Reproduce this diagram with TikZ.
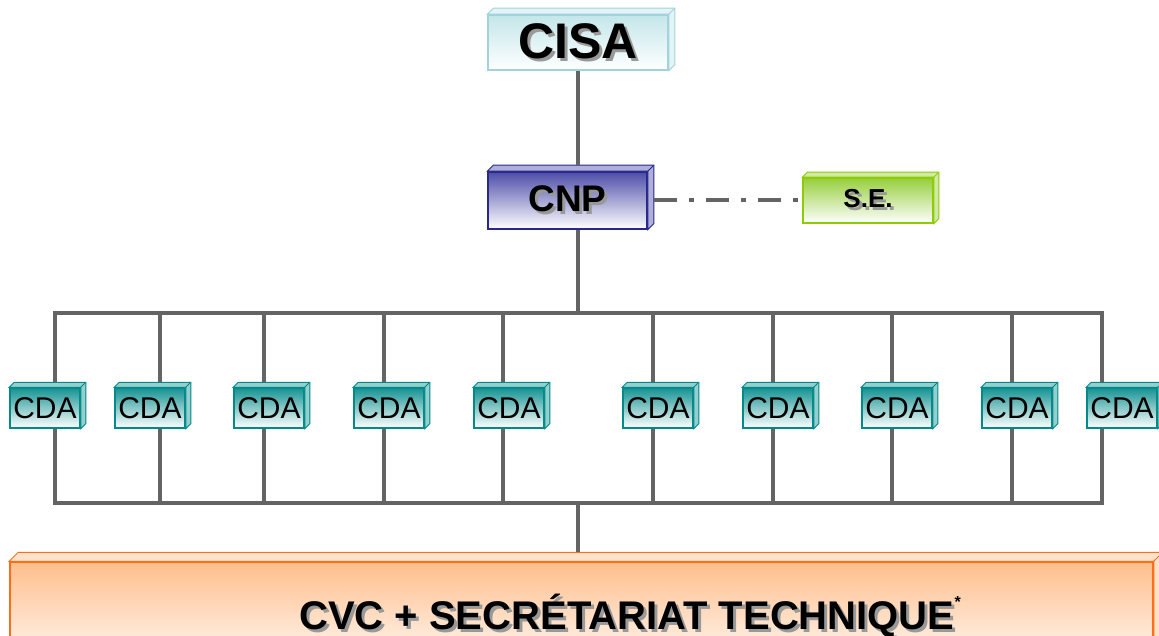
\documentclass[tikz,border=0pt]{standalone}
\usepackage{fontspec}
\setmainfont{Liberation Sans}
\definecolor{cisaline}{RGB}{160,212,218}
\definecolor{cisafill}{RGB}{196,230,234}
\definecolor{cnpline}{RGB}{40,40,140}
\definecolor{cnpfill}{RGB}{78,78,170}
\definecolor{seline}{RGB}{140,204,0}
\definecolor{sefill}{RGB}{150,206,60}
\definecolor{cdaline}{RGB}{0,138,138}
\definecolor{cdafill}{RGB}{22,146,146}
\definecolor{cvcline}{RGB}{255,110,20}
\definecolor{cvcfill}{RGB}{255,190,140}
\definecolor{wiregray}{RGB}{100,100,100}
\tikzset{
	box/.style={draw=#1line, line width=1.5pt, top color=#1fill, bottom color=white, inner sep=0pt},
	wire/.style={draw=wiregray, line width=4pt},
}
% text with a grey drop shadow
\newcommand{\shadowed}[1]{\makebox[0pt][l]{\hspace{3pt}\raisebox{-3pt}{\color{black!40}#1}}#1}
% top and right faces of a box node
\newcommand{\depthfaces}[3]{%
	\filldraw[draw=#3line, line width=1pt, fill=#3fill!45] (#1.north west) -- ([shift={(#2,-#2)}]#1.north west) -- ([shift={(#2,-#2)}]#1.north east) -- ([shift={(#2,-#2)}]#1.south east) -- (#1.south east) -- (#1.north east) -- cycle;
	\draw[draw=#3line, line width=1pt] (#1.north east) -- ([shift={(#2,-#2)}]#1.north east);
}
\begin{document}
\begin{tikzpicture}[x=1pt, y=-1pt]
		\useasboundingbox (0,0) rectangle (1159,636);
		\node [box=cisa, minimum width=180pt, minimum height=55pt, font={\fontsize{50}{55}\selectfont\bfseries}] (cisa) at (578,42.5) {\shadowed{CISA}};
		\depthfaces{cisa}{6}{cisa}
		\node [box=cnp, minimum width=159pt, minimum height=57pt, font={\fontsize{37}{40}\selectfont\bfseries}] (cnp) at (567.5,200.5) {\shadowed{CNP}};
		\depthfaces{cnp}{6}{cnp}
		\node [box=se, minimum width=130pt, minimum height=45pt, font={\fontsize{26}{30}\selectfont\bfseries}] (se) at (868,200.5) {\shadowed{S.E.}};
		\depthfaces{se}{5}{se}
		\node [box=cvc, minimum width=1143pt, minimum height=112pt] (cvc) at (581.5,618) {};
		\depthfaces{cvc}{9}{cvc}
		\node [font={\fontsize{40}{44}\selectfont\bfseries}] (cvctext) at (630,617) {\shadowed{CVC + SECRÉTARIAT TECHNIQUE}\raisebox{22pt}{\fontsize{16}{16}\selectfont*}};
		\foreach \i/\cx/\lx in {1/45/55, 2/150/160, 3/269/264, 4/389/384, 5/509/503, 6/658/653, 7/778/773, 8/897/892, 9/1017/1012, 10/1122/1102} {
			\node [box=cda, minimum width=70pt, minimum height=40pt, font={\fontsize{30}{34}\selectfont}] (cda\i) at (\cx,408) {CDA};
			\depthfaces{cda\i}{5}{cda}
			\coordinate (bt\i) at (\lx,313);
			\coordinate (bb\i) at (\lx,503);
			\draw [wire, shorten >=5pt] (bt\i) -- (bt\i |- cda\i.north);
			\draw [wire] (cda\i.south -| bb\i) -- (bb\i);
		}
		\draw [wire, line cap=rect] (bt1) -- (bt10);
		\draw [wire, line cap=rect] (bb1) -- (bb10);
		\draw [wire, shorten >=6pt] (cisa.south) -- (cisa.south |- cnp.north);
		\draw [wire] (cnp.south -| cisa.south) -- (cisa.south |- bt1);
		\draw [wire, shorten >=9pt] (cisa.south |- bb1) -- (cisa.south |- cvc.north);
		\draw [wire, dash pattern=on 23pt off 12pt on 5pt off 12pt, shorten <=6pt] (cnp.east) -- (se.west);
	\end{tikzpicture}
\end{document}
